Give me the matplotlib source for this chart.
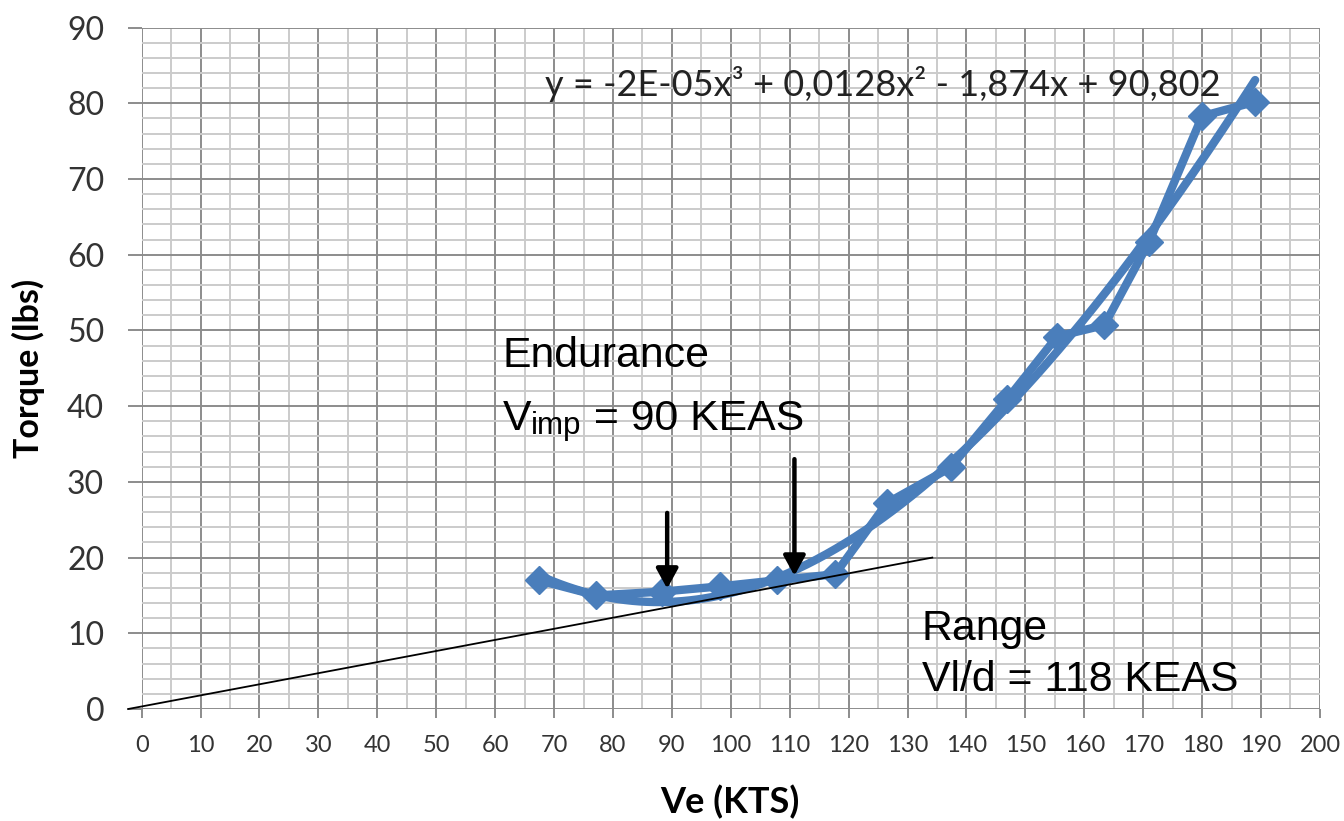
import numpy as np
import matplotlib
matplotlib.use("Agg")
import matplotlib.pyplot as plt
from matplotlib.patches import ArrowStyle

# ---- data ----
ve = [67.4, 77.2, 88.3, 98.2, 107.8, 117.7, 126.5, 137.3, 146.9, 155.4, 163.4, 171.0, 180.0, 189.0]
torque = [17.0, 15.0, 15.5, 16.2, 17.0, 17.8, 27.2, 31.9, 40.9, 49.2, 50.7, 61.7, 78.3, 80.2]

x_ticks = list(range(0, 201, 10))
y_ticks = list(range(0, 91, 10))

tangent_x = [-2.3, 134.2]
tangent_y = [0.0, 20.0]

arrow_endurance = {"x": 89.2, "y_from": 25.9, "y_to": 15.9}
arrow_range = {"x": 110.8, "y_from": 33.0, "y_to": 17.6}

equation = "y = -2E-05x³ + 0,0128x² - 1,874x + 90,802"

BLUE = "#4a7ebb"
MAJOR = "#8c8c8c"
MINOR = "#cbcbcb"

fig = plt.figure(figsize=(13.44, 8.21), dpi=100)
ax = fig.add_axes([0.1054, 0.1364, 0.8767, 0.8300])
ax.set_xlim(0, 200)
ax.set_ylim(0, 90)

ax.set_xticks(x_ticks)
ax.set_xticks([v + 5 for v in x_ticks[:-1]], minor=True)
ax.set_yticks(y_ticks)
ax.set_yticks([v for v in range(0, 91, 2) if v % 10], minor=True)

ax.grid(which="major", color=MAJOR, lw=1.4, zorder=0)
ax.grid(which="minor", color=MINOR, lw=1.4, zorder=0)
ax.set_axisbelow(True)
for s in ax.spines.values():
    s.set_visible(False)

ax.tick_params(axis="y", which="major", length=10, width=1.4, color=MAJOR,
               pad=17, labelsize=23, labelcolor="#333333")
ax.tick_params(axis="x", which="major", length=6.5, width=1.4, color=MAJOR,
               pad=12, labelsize=17, labelcolor="#333333")
ax.tick_params(which="minor", length=0)
for lab in ax.get_xticklabels() + ax.get_yticklabels():
    lab.set_family("Lato")

# polynomial trendline (cubic) fitted to the data
coef = np.polyfit(ve, torque, 3)
xs = np.linspace(min(ve), max(ve), 300)
ax.plot(xs, np.polyval(coef, xs), color=BLUE, lw=6, solid_capstyle="round", zorder=3)

# data series
ax.plot(ve, torque, color=BLUE, lw=6, marker="D", ms=14.5, zorder=4,
        solid_joinstyle="round")

# tangent line
ax.plot(tangent_x, tangent_y, color="black", lw=1.3, zorder=6, clip_on=False)

# arrows
astyle = ArrowStyle("-|>", head_length=0.6, head_width=0.33)
for a in (arrow_endurance, arrow_range):
    ax.annotate("", xy=(a["x"], a["y_to"]), xytext=(a["x"], a["y_from"]),
                arrowprops=dict(arrowstyle=astyle, color="black", lw=3.2,
                                mutation_scale=20, shrinkA=0, shrinkB=0),
                zorder=7)

# annotations
ann_font = "Liberation Sans"
AFS = 30.8
ax.text(61.3, 45.2, "Endurance", fontsize=AFS, family=ann_font, va="baseline", zorder=8)
t1 = ax.text(61.3, 36.9, "V", fontsize=AFS, family=ann_font, va="baseline", zorder=8)
t2 = ax.annotate("imp", xy=(1, 0), xycoords=t1, xytext=(0, -1.5),
                 textcoords="offset points", fontsize=22.5, family=ann_font,
                 va="bottom", ha="left", zorder=8)
ax.annotate(" = 90 KEAS", xy=(1, 0), xycoords=(t2, t1), fontsize=AFS,
            family=ann_font, va="bottom", ha="left", zorder=8)
ax.text(132.4, 9.1, "Range", fontsize=AFS, family=ann_font, va="baseline", zorder=8)
ax.text(132.4, 2.4, "Vl/d = 118 KEAS", fontsize=AFS, family=ann_font, va="baseline", zorder=8)

ax.text(68.5, 80.9, equation, fontsize=26, family="Lato", va="baseline",
        color="#222222", zorder=8)

# axis titles
fig.text(28 / 1344, 1 - 368 / 821, "Torque (lbs)", rotation=90, ha="center",
         va="center", fontsize=24.5, fontweight="bold", family="Lato")
fig.text(730 / 1344, 1 - 802 / 821, "Ve (KTS)", ha="center", va="center",
         fontsize=26, fontweight="bold", family="Lato")

fig.savefig("out.png", dpi=100)
